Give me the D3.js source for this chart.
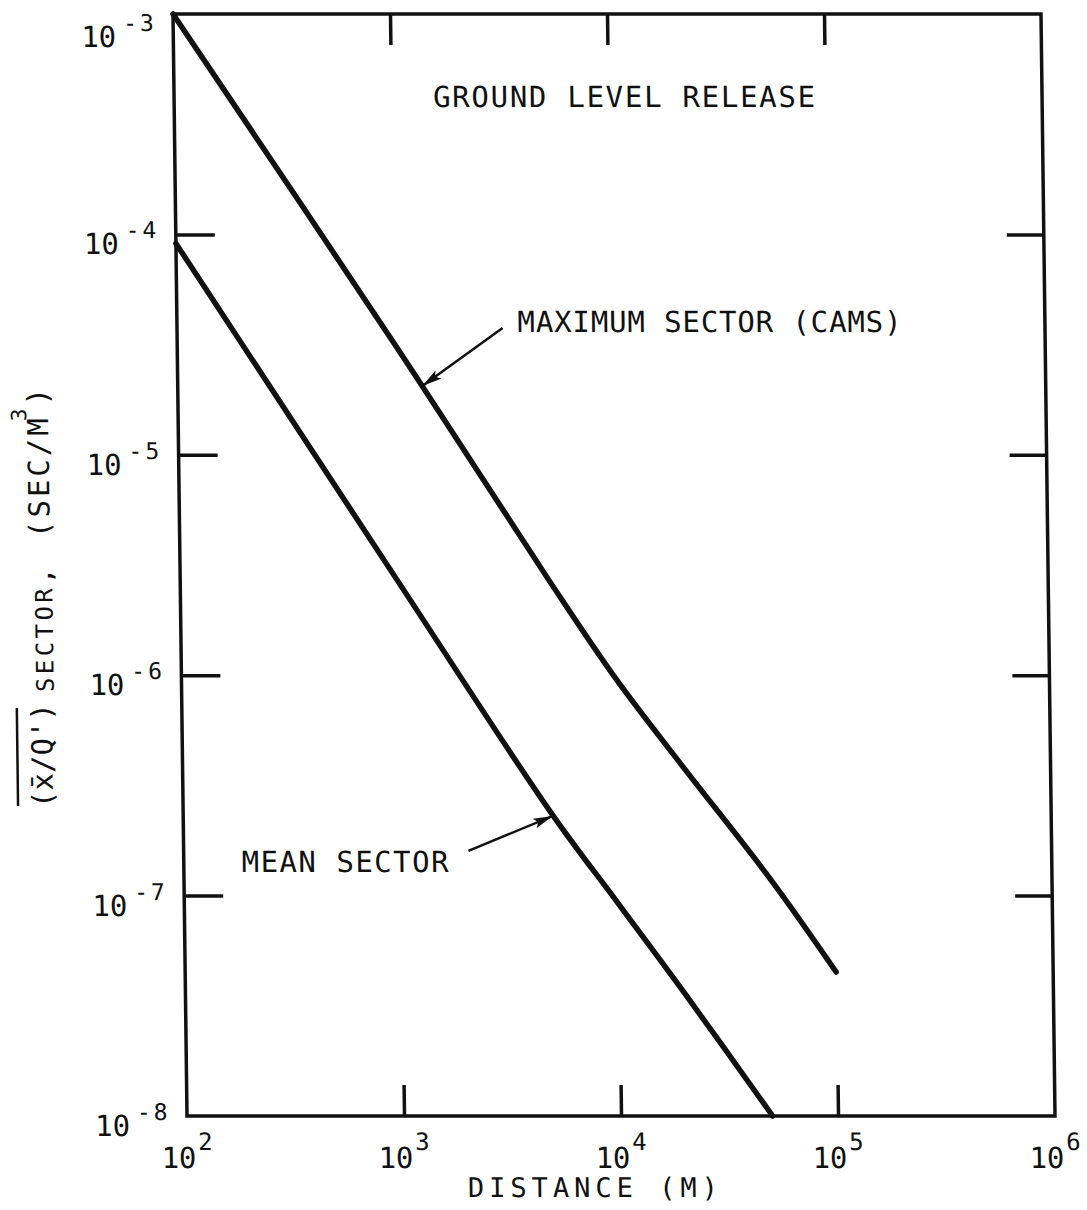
<!DOCTYPE html>
<html>
<head>
<meta charset="utf-8">
<script src="https://cdn.jsdelivr.net/npm/d3@7"></script>
<style>
  html, body { margin: 0; padding: 0; background: #fff; }
  svg { display: block; }
  text { font-family: "DejaVu Sans Mono", monospace; fill: #111; }
</style>
</head>
<body>
<svg id="chart" width="1087" height="1210"></svg>
<script>
// Downwind distance (m) and sector-averaged dispersion factor (sec/m^3)
const maxSectorDistance = [1e2, 1e3, 5e3, 1e4, 2e4, 5e4, 1e5];
const maxSectorValue    = [1.0e-3, 3.2e-5, 2.7e-6, 9.7e-7, 3.9e-7, 1.2e-7, 4.5e-8];

const meanSectorDistance = [1e2, 1e3, 5e3, 1e4, 2e4, 5e4];
const meanSectorValue    = [9.1e-5, 2.7e-6, 2.35e-7, 9.2e-8, 3.6e-8, 1.0e-8];

// Axis decades
const xTickExponents = [2, 3, 4, 5, 6];
const yTickExponents = [-3, -4, -5, -6, -7, -8];
const xInnerTicks = [1e3, 1e4, 1e5];
const yInnerTicks = [1e-4, 1e-5, 1e-6, 1e-7];

// Callout labels and the point on each curve that the arrow touches
const calloutText  = ["MAXIMUM SECTOR (CAMS)", "MEAN SECTOR"];
const calloutPoint = [[1340, 2.05e-5], [5060, 2.3e-7]];

const titleText = "GROUND LEVEL RELEASE";
const xTitle = "DISTANCE (M)";

const svg = d3.select("#chart");
const INK = "#111";

// the sheet is slightly sheared: left edge leans right towards the bottom
const plotTop = 14, plotBottom = 1116, plotLeft = 173, plotRight = 1041;
const shear = 14 / (plotBottom - plotTop);
const g = svg.append("g")
  .attr("transform", `matrix(1,0,${shear},1,${-shear * plotTop},0)`);

const x = d3.scaleLog().domain([1e2, 1e6]).range([plotLeft, plotRight]);
const y = d3.scaleLog().domain([1e-3, 1e-8]).range([plotTop, plotBottom]);

// arrowhead
const defs = svg.append("defs");
defs.append("marker")
  .attr("id", "head")
  .attr("viewBox", "0 0 20 10")
  .attr("refX", 20).attr("refY", 5)
  .attr("markerWidth", 20).attr("markerHeight", 10)
  .attr("markerUnits", "userSpaceOnUse")
  .attr("orient", "auto")
  .append("path").attr("d", "M0,0 L20,5 L0,10 L4,5 Z").attr("fill", INK);

// tick marks drawn inward on all four sides
function styleAxis(sel) {
  sel.select(".domain").remove();
  sel.selectAll(".tick line").attr("stroke", INK).attr("stroke-width", 3.5);
  sel.selectAll(".tick text").remove();
}
g.append("g").attr("transform", `translate(${plotLeft},0)`)
  .call(d3.axisLeft(y).tickValues(yInnerTicks).tickSizeInner(-39).tickSizeOuter(0).tickFormat(""))
  .call(styleAxis);
g.append("g").attr("transform", `translate(${plotRight},0)`)
  .call(d3.axisRight(y).tickValues(yInnerTicks).tickSizeInner(-37).tickSizeOuter(0).tickFormat(""))
  .call(styleAxis);
g.append("g").attr("transform", `translate(0,${plotBottom})`)
  .call(d3.axisBottom(x).tickValues(xInnerTicks).tickSizeInner(-31).tickSizeOuter(0).tickFormat(""))
  .call(styleAxis);
g.append("g").attr("transform", `translate(0,${plotTop})`)
  .call(d3.axisTop(x).tickValues(xInnerTicks).tickSizeInner(-31).tickSizeOuter(0).tickFormat(""))
  .call(styleAxis);

// frame
g.append("rect")
  .attr("x", x.range()[0]).attr("y", y.range()[0])
  .attr("width", x.range()[1] - x.range()[0])
  .attr("height", y.range()[1] - y.range()[0])
  .attr("fill", "none").attr("stroke", INK).attr("stroke-width", 3.5);

// curves
const line = d3.line()
  .x(d => x(d[0])).y(d => y(d[1]))
  .curve(d3.curveCatmullRom.alpha(0.5));
const series = [
  d3.zip(maxSectorDistance, maxSectorValue),
  d3.zip(meanSectorDistance, meanSectorValue)
];
g.selectAll("path.curve").data(series).join("path")
  .attr("class", "curve")
  .attr("d", line)
  .attr("fill", "none").attr("stroke", INK)
  .attr("stroke-width", 5.5).attr("stroke-linecap", "round").attr("stroke-linejoin", "round");

// y tick labels: 10 with a raised exponent
yTickExponents.forEach(e => {
  const ty = y(Math.pow(10, e));
  const base = Math.max(ty + 20, 47);
  const t = g.append("text")
    .attr("x", plotLeft - 92).attr("y", base)
    .attr("font-size", 29);
  t.append("tspan").text("10");
  t.append("tspan").attr("dx", 7).attr("dy", -16)
    .attr("font-size", 23).attr("letter-spacing", 3)
    .text(e < 0 ? "-" + (-e) : String(e));
});

// x tick labels
xTickExponents.forEach(e => {
  const tx = x(Math.pow(10, e));
  const t = g.append("text")
    .attr("x", tx - 26).attr("y", 1168)
    .attr("font-size", 29);
  t.append("tspan").text("10");
  t.append("tspan").attr("dx", 2).attr("dy", -18)
    .attr("font-size", 24).text(String(e));
});

// title and axis titles
g.append("text").attr("x", 432).attr("y", 107)
  .attr("font-size", 29).attr("textLength", 382).attr("lengthAdjust", "spacing")
  .text(titleText);
g.append("text").attr("x", 453).attr("y", 1197)
  .attr("font-size", 27).attr("textLength", 250).attr("lengthAdjust", "spacing")
  .text(xTitle);

// rotated y-axis title: (x̄/Q') SECTOR, (SEC/M³)
const yl = g.append("g").attr("transform", "translate(43,808) rotate(-90)");
yl.append("text").attr("x", 0).attr("y", 0).attr("font-size", 29)
  .text("(x\u0304/Q')");
yl.append("line").attr("x1", 2).attr("x2", 100).attr("y1", -35).attr("y2", -35)
  .attr("stroke", INK).attr("stroke-width", 2.5);
const sec = yl.append("text").attr("x", 116).attr("y", 2)
  .attr("font-size", 24).attr("letter-spacing", 3.4);
sec.append("tspan").text("SECTOR");
sec.append("tspan").attr("dx", 2).attr("font-weight", "bold").text(",");
const unit = yl.append("text").attr("x", 270).attr("y", 0)
  .attr("font-size", 29).attr("letter-spacing", 3);
unit.append("tspan").text("(SEC/M");
unit.append("tspan").attr("dx", -6).attr("dy", -22).attr("font-size", 21).text("3");
unit.append("tspan").attr("dy", 22).text(")");

// callouts with arrows pointing at the curves
const calloutTail = [[81, -58], [-85, 35]];
const calloutTextOffset = [[96, -54], [-312, 56]];
const calloutTextLength = [384, 207];
calloutText.forEach((txt, i) => {
  const px = x(calloutPoint[i][0]), py = y(calloutPoint[i][1]);
  const tx = px + calloutTail[i][0], ty = py + calloutTail[i][1];
  g.append("line")
    .attr("x1", tx).attr("y1", ty).attr("x2", px).attr("y2", py)
    .attr("stroke", INK).attr("stroke-width", 2.5)
    .attr("marker-end", "url(#head)");
  g.append("text")
    .attr("x", px + calloutTextOffset[i][0]).attr("y", py + calloutTextOffset[i][1])
    .attr("font-size", 29)
    .attr("textLength", calloutTextLength[i]).attr("lengthAdjust", "spacing")
    .text(txt);
});
</script>
</body>
</html>
